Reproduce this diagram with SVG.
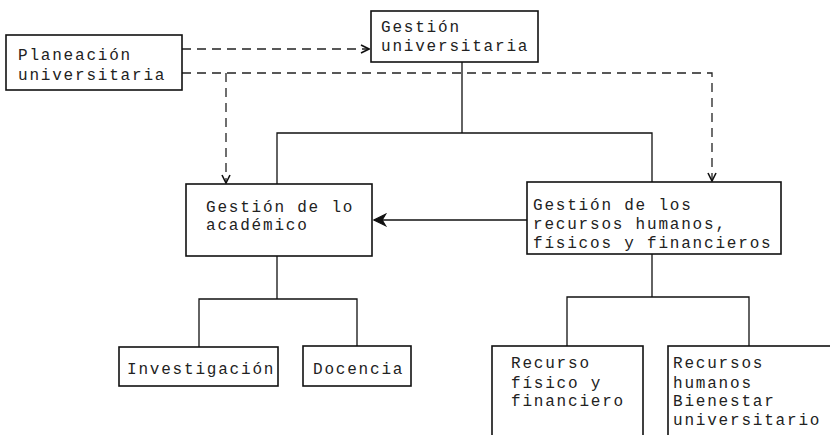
<svg xmlns="http://www.w3.org/2000/svg" width="830" height="435" viewBox="0 0 830 435">
<defs>
<style>
.box{fill:#fff;stroke:#111;stroke-width:1.6}
.t{font-family:"Liberation Mono","Courier New",monospace;font-size:16px;letter-spacing:1.8px;fill:#222}
.ln{fill:none;stroke:#111;stroke-width:1.3}
.dash{fill:none;stroke:#222;stroke-width:1.3;stroke-dasharray:9 6}
</style>
<marker id="ah" viewBox="0 0 10 10" refX="9" refY="5" markerWidth="10" markerHeight="10" markerUnits="userSpaceOnUse" orient="auto">
<path d="M1,1 L9,5 L1,9" fill="none" stroke="#111" stroke-width="1.6"/>
</marker>
<marker id="ahs" viewBox="0 0 12 12" refX="11" refY="6" markerWidth="14" markerHeight="14" markerUnits="userSpaceOnUse" orient="auto">
<path d="M1,1 L11,6 L1,11 L4,6 Z" fill="#111" stroke="#111" stroke-width="1"/>
</marker>
</defs>
<rect width="830" height="435" fill="#fff"/>
<g id="connectors">
<path class="dash" d="M182,49 H369" marker-end="url(#ah)"/>
<path class="dash" d="M182,73 H712 V181" marker-end="url(#ah)"/>
<path class="dash" d="M226,73 V183" marker-end="url(#ah)"/>
<path class="ln" d="M462,62 V133 M277,184 V133 H652 V182"/>
<path class="ln" d="M527,220 H374" marker-end="url(#ahs)"/>
<path class="ln" d="M277,256 V299 M199,347 V299 H357 V346"/>
<path class="ln" d="M652,254 V297 M567,346 V297 H749 V346"/>
</g>
<g id="planeacion">
<rect class="box" x="6" y="35" width="176" height="55"/>
<text class="t" x="18" y="60">Planeación</text>
<text class="t" x="18" y="80">universitaria</text>
</g>
<g id="gestion-universitaria">
<rect class="box" x="371" y="11" width="167" height="51"/>
<text class="t" x="381" y="32">Gestión</text>
<text class="t" x="381" y="51">universitaria</text>
</g>
<g id="gestion-academico">
<rect class="box" x="186" y="184" width="186" height="72"/>
<text class="t" x="206" y="212">Gestión de lo</text>
<text class="t" x="206" y="230">académico</text>
</g>
<g id="gestion-recursos">
<rect class="box" x="527" y="182" width="254" height="72"/>
<text class="t" x="533" y="210">Gestión de los</text>
<text class="t" x="533" y="229">recursos humanos,</text>
<text class="t" x="533" y="248">físicos y financieros</text>
</g>
<g id="investigacion">
<rect class="box" x="119" y="347" width="159" height="39"/>
<text class="t" x="127" y="374">Investigación</text>
</g>
<g id="docencia">
<rect class="box" x="303" y="346" width="108" height="40"/>
<text class="t" x="313" y="374">Docencia</text>
</g>
<g id="recurso-fisico">
<rect class="box" x="492" y="346" width="151" height="100"/>
<text class="t" x="511" y="368">Recurso</text>
<text class="t" x="511" y="388">físico y</text>
<text class="t" x="511" y="406">financiero</text>
</g>
<g id="recursos-humanos">
<rect class="box" x="668" y="346" width="180" height="100"/>
<text class="t" x="673" y="368">Recursos</text>
<text class="t" x="673" y="388">humanos</text>
<text class="t" x="673" y="406">Bienestar</text>
<text class="t" x="673" y="425">universitario</text>
</g>
</svg>
